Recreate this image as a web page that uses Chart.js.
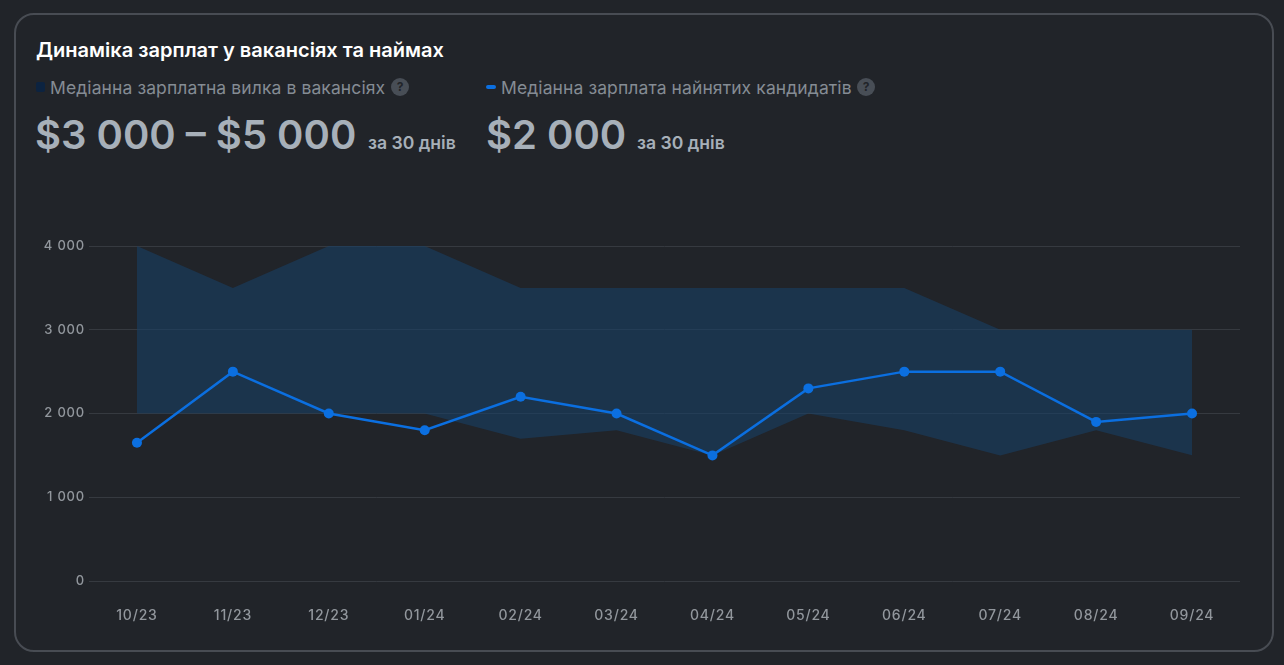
<!DOCTYPE html>
<html lang="uk">
<head>
<meta charset="utf-8">
<title>Динаміка зарплат</title>
<script src="https://cdn.jsdelivr.net/npm/chart.js@4"></script>
<style>
    html, body { margin: 0; padding: 0; width: 1284px; height: 665px; overflow: hidden; background: #212429; font-family: Inter, sans-serif; }
    .card { position: absolute; left: 14px; top: 13px; width: 1256px; height: 635px; border: 2px solid #484c53; border-radius: 20px; box-sizing: content-box; }
    .title { position: absolute; left: 36px; top: 38px; font-size: 20.05px; line-height: 24px; font-weight: 600; color: #fff; white-space: nowrap; }
    .legend { position: absolute; top: 76px; font-size: 17.5px; line-height: 24px; color: #858c94; white-space: nowrap; letter-spacing: 0.1px; }
    .swatch { position: absolute; background: #0c2340; }
    .help { position: absolute; top: 78px; width: 18px; height: 18px; border-radius: 50%; background: #484e56; color: #212429; font-size: 12px; font-weight: 700; line-height: 18px; text-align: center; }
    .value { position: absolute; top: 107px; font-size: 40px; line-height: 56px; font-weight: 600; color: #a7b0b9; white-space: nowrap; }
    .period { position: absolute; top: 131px; font-size: 17.6px; line-height: 24px; font-weight: 600; color: #a7b0b9; white-space: nowrap; }
    .chart-box { position: absolute; left: 16px; top: 230px; width: 1229px; height: 410px; }
</style>
</head>
<body>
<div class="card"></div>
<div class="title">Динаміка зарплат у вакансіях та наймах</div>

<div class="swatch" style="left:36px;top:82px;width:9px;height:10px;border-radius:2px"></div>
<div class="legend" style="left:50px">Медіанна зарплатна вилка в вакансіях</div>
<div class="help" style="left:391px">?</div>
<div class="value" style="left:35px">$3 000 – $5 000</div>
<div class="period" style="left:368px">за 30 днів</div>

<div class="swatch" style="left:486px;top:85px;width:10px;height:4px;border-radius:2px;background:#0b6fe0"></div>
<div class="legend" style="left:501px">Медіанна зарплата найнятих кандидатів</div>
<div class="help" style="left:857px">?</div>
<div class="value" style="left:486px">$2 000</div>
<div class="period" style="left:637px">за 30 днів</div>

<div class="chart-box"><canvas id="salary-chart"></canvas></div>

<script>
const months = ['10/23', '11/23', '12/23', '01/24', '02/24', '03/24', '04/24', '05/24', '06/24', '07/24', '08/24', '09/24'];
const rangeTop = [4000, 3500, 4000, 4000, 3500, 3500, 3500, 3500, 3500, 3000, 3000, 3000];
const rangeBottom = [2000, 2000, 2000, 2000, 1700, 1800, 1500, 2000, 1800, 1500, 1800, 1500];
const hiredMedian = [1650, 2500, 2000, 1800, 2200, 2000, 1500, 2300, 2500, 2500, 1900, 2000];
const yTickLabels = ['0', '1 000', '2 000', '3 000', '4 000'];

// tick labels in the original are slightly tracked out
const letterSpacing = {
    id: 'letterSpacing',
    beforeDraw(chart) {
        chart.ctx.letterSpacing = '0.8px';
    }
};

document.fonts.load('13px Inter').finally(() => {
    new Chart(document.getElementById('salary-chart'), {
        type: 'line',
        plugins: [letterSpacing],
        data: {
            labels: months,
            datasets: [
                {
                    label: 'Медіанна зарплата найнятих кандидатів',
                    data: hiredMedian,
                    borderColor: '#0b6fe0',
                    backgroundColor: '#0b6fe0',
                    borderWidth: 2.5,
                    pointRadius: 5,
                    pointBorderWidth: 0,
                    tension: 0,
                    fill: false
                },
                {
                    label: 'Верх вилки',
                    data: rangeTop,
                    borderWidth: 0,
                    pointRadius: 0,
                    tension: 0,
                    backgroundColor: 'rgba(24, 63, 102, 0.58)',
                    fill: '+1'
                },
                {
                    label: 'Низ вилки',
                    data: rangeBottom,
                    borderWidth: 0,
                    pointRadius: 0,
                    tension: 0,
                    fill: false
                }
            ]
        },
        options: {
            responsive: true,
            maintainAspectRatio: false,
            animation: false,
            layout: { padding: { top: 16, right: 0, left: 0, bottom: 0 } },
            plugins: {
                legend: { display: false },
                tooltip: { enabled: false }
            },
            scales: {
                x: {
                    offset: true,
                    grid: { display: false },
                    border: { display: false },
                    afterFit(scale) { scale.height = 59; },
                    ticks: {
                        color: '#92979d',
                        font: { family: 'Inter', size: 14, weight: '500' },
                        padding: 18,
                        maxRotation: 0
                    }
                },
                y: {
                    min: 0,
                    max: 4000,
                    afterFit(scale) { scale.width = 73; },
                    grid: { color: '#363a40', lineWidth: 1, drawTicks: false },
                    border: { display: false },
                    ticks: {
                        stepSize: 1000,
                        color: '#92979d',
                        font: { family: 'Inter', size: 13, weight: '500' },
                        padding: 4,
                        callback: (value, index) => yTickLabels[index]
                    }
                }
            }
        }
    });
});
</script>
</body>
</html>
